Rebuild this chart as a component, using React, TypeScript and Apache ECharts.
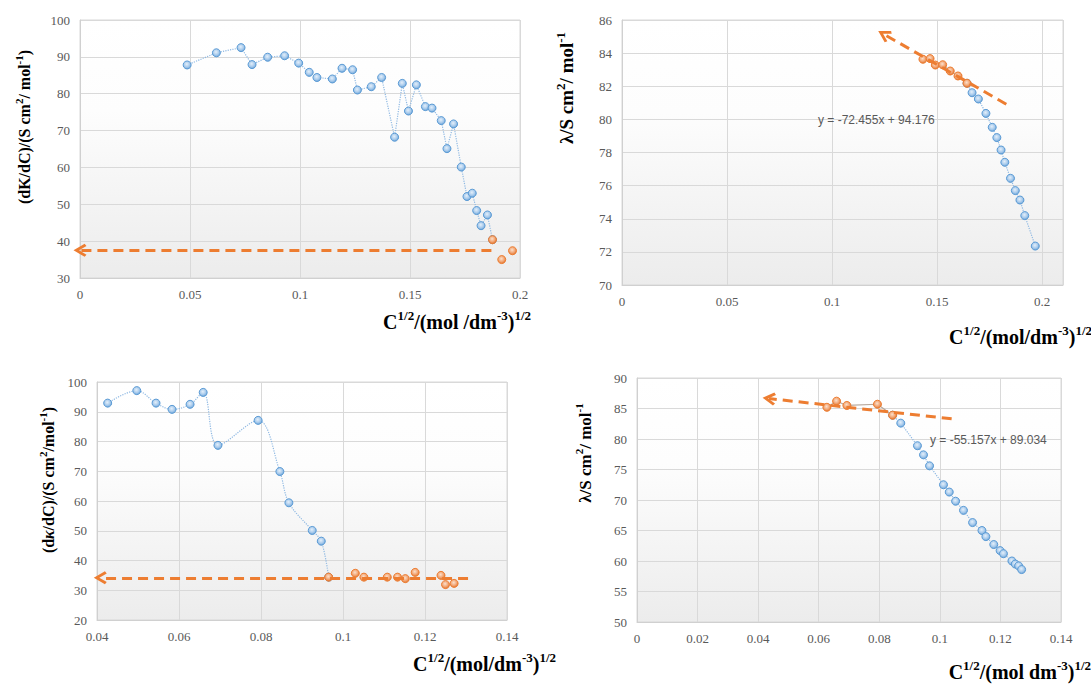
import React, { useEffect, useRef } from "react";
import * as echarts from "echarts";

// ---------- DATA ----------
// Panel 1 (top-left)
const p1BlueX = [0.0487, 0.062, 0.0732, 0.0782, 0.0853, 0.093, 0.0994, 0.1042, 0.1077, 0.1147, 0.1191, 0.1239, 0.1261, 0.1324, 0.1371, 0.143, 0.1465, 0.1493, 0.1529, 0.157, 0.16, 0.1642, 0.1668, 0.1698, 0.1733, 0.1759, 0.1783, 0.1803, 0.1823, 0.1852];
const p1BlueY = [87.8, 91.1, 92.5, 87.9, 89.9, 90.3, 88.3, 85.8, 84.4, 84.0, 86.9, 86.5, 81.0, 81.9, 84.4, 68.2, 82.8, 75.3, 82.4, 76.5, 76.1, 72.7, 65.1, 71.8, 60.1, 52.1, 53.0, 48.3, 44.2, 47.1];
const p1OrangeX = [0.1875, 0.1917, 0.1966];
const p1OrangeY = [40.4, 35.0, 37.4];
const p1ArrowX = [0.187, 0];
const p1ArrowY = [37.5, 37.5];

// Panel 2 (top-right)
const p2OrangeX = [0.1433, 0.1467, 0.1492, 0.1527, 0.1563, 0.16, 0.1643];
const p2OrangeY = [83.63, 83.67, 83.28, 83.3, 82.92, 82.62, 82.18];
const p2BlueX = [0.1667, 0.1697, 0.1733, 0.1763, 0.1785, 0.1805, 0.1823, 0.185, 0.1873, 0.1895, 0.1918, 0.1968];
const p2BlueY = [81.61, 81.23, 80.36, 79.52, 78.9, 78.15, 77.41, 76.44, 75.7, 75.13, 74.19, 72.35];
const p2Slope = -72.455;
const p2Intercept = 94.176;
const p2ArrowX = [0.183, 0.1247];
const p2Equation = "y = -72.455x + 94.176";

// Panel 3 (bottom-left)
const p3BlueX = [0.0426, 0.0497, 0.0544, 0.0583, 0.0627, 0.0659, 0.0695, 0.0793, 0.0846, 0.0868, 0.0925, 0.0947];
const p3BlueY = [92.9, 97.1, 92.9, 90.8, 92.5, 96.5, 78.7, 87.1, 69.9, 59.4, 50.1, 46.5];
const p3OrangeX = [0.0965, 0.103, 0.1051, 0.1108, 0.1133, 0.1152, 0.1176, 0.1239, 0.125, 0.1271];
const p3OrangeY = [34.4, 35.7, 34.4, 34.4, 34.4, 33.9, 36.0, 35.0, 31.9, 32.3];
const p3ArrowX = [0.1305, 0.0408];
const p3ArrowY = [34.2, 34.2];

// Panel 4 (bottom-right)
const p4OrangeX = [0.0627, 0.0659, 0.0693, 0.0794, 0.0844];
const p4OrangeY = [85.2, 86.2, 85.5, 85.7, 83.9];
const p4BlueX = [0.0871, 0.0926, 0.0946, 0.0966, 0.1012, 0.1031, 0.1052, 0.1078, 0.1108, 0.1139, 0.1152, 0.1178, 0.1199, 0.121, 0.1238, 0.1249, 0.126, 0.127];
const p4BlueY = [82.6, 78.9, 77.4, 75.6, 72.5, 71.3, 69.8, 68.3, 66.3, 65.0, 64.0, 62.7, 61.7, 61.2, 60.0, 59.5, 59.2, 58.6];
const p4Slope = -55.157;
const p4Intercept = 89.034;
const p4ArrowX = [0.1039, 0.0436];
const p4Equation = "y = -55.157x + 89.034";

// ---------- HELPERS ----------
const zip = (xs: number[], ys: number[]) => xs.map((x, i) => [x, ys[i]]);

const BLUE = "#5B9BD5";
const ORANGE = "#ED7D31";
const SERIF = "'Liberation Serif', 'Times New Roman', serif";

const blueFill = {
  type: "radial", x: 0.45, y: 0.4, r: 0.6,
  colorStops: [{ offset: 0, color: "#e4effa" }, { offset: 0.6, color: "#a9cbec" }, { offset: 1, color: "#6fa6da" }],
};
const orangeFill = {
  type: "radial", x: 0.45, y: 0.4, r: 0.6,
  colorStops: [{ offset: 0, color: "#fbe0cc" }, { offset: 0.6, color: "#f2a675" }, { offset: 1, color: "#e2752f" }],
};

const chevron = "path://M6,0 L12,9 L10,10.5 L6,4.5 L2,10.5 L0,9 Z";

const plotBg = {
  type: "linear", x: 0, y: 0, x2: 0, y2: 1,
  colorStops: [{ offset: 0, color: "#ffffff" }, { offset: 0.35, color: "#fdfdfd" }, { offset: 1, color: "#ececec" }],
};

function makeGrid(left: number, top: number, width: number, height: number) {
  return { left, top, width, height, show: true, backgroundColor: plotBg, borderColor: "#d9d9d9", borderWidth: 1 };
}

const axisLabel = { color: "#595959", fontFamily: SERIF, fontSize: 13, margin: 10 };
const splitLine = { show: true, lineStyle: { color: "#d9d9d9", width: 1 } };

function xAxis(gridIndex: number, min: number, max: number, interval: number, hideMax = false) {
  return {
    type: "value", gridIndex, min, max, interval,
    axisLine: { show: true, lineStyle: { color: "#d0d0d0" } },
    axisTick: { show: false },
    axisLabel: { ...axisLabel, showMaxLabel: !hideMax },
    splitLine,
  };
}
function yAxis(gridIndex: number, min: number, max: number, interval: number) {
  return {
    type: "value", gridIndex, min, max, interval,
    axisLine: { show: true, lineStyle: { color: "#d0d0d0" } },
    axisTick: { show: false },
    axisLabel,
    splitLine,
  };
}

function arrowMark(from: number[], to: number[]) {
  return {
    silent: true,
    animation: false,
    symbol: ["none", chevron],
    symbolSize: 13,
    label: { show: false },
    lineStyle: { type: [10, 6], width: 3, color: ORANGE, opacity: 1 },
    emphasis: { disabled: true },
    data: [[{ coord: from }, { coord: to }]],
  };
}

function blueLine(idx: number, data: number[][], smooth: number | boolean = false) {
  return {
    type: "line", xAxisIndex: idx, yAxisIndex: idx, data, smooth,
    symbol: "circle", symbolSize: 8, z: 3,
    lineStyle: { color: "#8fb9e3", width: 1.2, type: "dotted" },
    itemStyle: { color: blueFill, borderColor: BLUE, borderWidth: 1 },
  };
}
function orangePoints(idx: number, data: number[][], withLine: boolean, mark: any) {
  return {
    type: "line", xAxisIndex: idx, yAxisIndex: idx, data,
    symbol: "circle", symbolSize: 8, z: 4,
    lineStyle: withLine ? { color: "#b7a89c", width: 1.2 } : { width: 0, opacity: 0 },
    itemStyle: { color: orangeFill, borderColor: ORANGE, borderWidth: 1 },
    markLine: mark,
  };
}

const titleRich = (size: number) => ({
  b: { fontFamily: SERIF, fontWeight: "bold", fontSize: size, color: "#000", lineHeight: size + 6 },
  i: { fontFamily: SERIF, fontWeight: "bold", fontStyle: "italic", fontSize: size, color: "#000", lineHeight: size + 6 },
  s: { fontFamily: SERIF, fontWeight: "bold", fontSize: Math.round(size * 0.66), color: "#000", verticalAlign: "top" },
});

function titleText(text: string, x: number, y: number, size: number, vertical: boolean, align: string) {
  return {
    type: "text", x, y, rotation: vertical ? Math.PI / 2 : 0, silent: true,
    style: {
      text, rich: titleRich(size),
      align, textAlign: align, verticalAlign: "middle", textVerticalAlign: "middle",
    },
  };
}
function eqText(text: string, x: number, y: number) {
  return {
    type: "text", x, y, silent: true, z: 10,
    style: {
      text, fill: "#595959", font: "12px 'Liberation Sans', Arial, sans-serif",
      align: "left", textAlign: "left", verticalAlign: "middle", textVerticalAlign: "middle",
    },
  };
}

export default function App() {
  const ref = useRef<HTMLDivElement>(null);
  useEffect(() => {
    if (!ref.current) return;
    const chart = echarts.init(ref.current, undefined, { renderer: "svg" });

    const p1Blue = zip(p1BlueX, p1BlueY).concat([[p1OrangeX[0], p1OrangeY[0]]]);
    const p2Blue = [[p2OrangeX[p2OrangeX.length - 1], p2OrangeY[p2OrangeY.length - 1]]].concat(zip(p2BlueX, p2BlueY));
    const p3Blue = zip(p3BlueX, p3BlueY).concat([[p3OrangeX[0], p3OrangeY[0]]]);
    const p4Blue = [[p4OrangeX[p4OrangeX.length - 1], p4OrangeY[p4OrangeY.length - 1]]].concat(zip(p4BlueX, p4BlueY));

    const p2Arrow = p2ArrowX.map((x) => [x, p2Slope * x + p2Intercept]);
    const p4Arrow = p4ArrowX.map((x) => [x, p4Slope * x + p4Intercept]);

    chart.setOption({
      animation: false,
      backgroundColor: "#ffffff",
      grid: [
        makeGrid(80, 20, 440, 258),
        makeGrid(622, 20, 441, 265),
        makeGrid(97, 382, 410, 238),
        makeGrid(637, 378, 424, 244),
      ],
      xAxis: [
        xAxis(0, 0, 0.2, 0.05),
        xAxis(1, 0, 0.21, 0.05, true),
        xAxis(2, 0.04, 0.14, 0.02),
        xAxis(3, 0, 0.14, 0.02),
      ],
      yAxis: [
        yAxis(0, 30, 100, 10),
        yAxis(1, 70, 86, 2),
        yAxis(2, 20, 100, 10),
        yAxis(3, 50, 90, 5),
      ],
      series: [
        blueLine(0, p1Blue),
        orangePoints(0, zip(p1OrangeX, p1OrangeY), false, arrowMark([p1ArrowX[0], p1ArrowY[0]], [p1ArrowX[1], p1ArrowY[1]])),
        blueLine(1, p2Blue),
        orangePoints(1, zip(p2OrangeX, p2OrangeY), true, arrowMark(p2Arrow[0], p2Arrow[1])),
        blueLine(2, p3Blue, 0.35),
        orangePoints(2, zip(p3OrangeX, p3OrangeY), false, arrowMark([p3ArrowX[0], p3ArrowY[0]], [p3ArrowX[1], p3ArrowY[1]])),
        blueLine(3, p4Blue),
        orangePoints(3, zip(p4OrangeX, p4OrangeY), true, arrowMark(p4Arrow[0], p4Arrow[1])),
      ],
      graphic: [
        titleText("{b|(dK/dC)/(S cm}{s|2}{b|/ mol}{s|-1}{b|)}", 24, 127, 16, true, "center"),
        titleText("{b|C}{s|1/2}{b|/(mol /dm}{s|-3}{b|)}{s|1/2}", 531, 322, 20, false, "right"),
        titleText("{b|λ/S cm}{s|2}{b|/ mol}{s|-1}", 566, 88, 19, true, "center"),
        titleText("{b|C}{s|1/2}{b|/(mol/dm}{s|-3}{b|)}{s|1/2}", 1092, 337, 20, false, "right"),
        titleText("{b|(d}{i|κ}{b|/dC)/(S cm}{s|2}{b|/mol}{s|-1}{b|)}", 48, 480, 16, true, "center"),
        titleText("{b|C}{s|1/2}{b|/(mol/dm}{s|-3}{b|)}{s|1/2}", 556, 664, 20, false, "right"),
        titleText("{b|λ/S cm}{s|2}{b|/ mol}{s|-1}", 585, 453, 17, true, "center"),
        titleText("{b|C}{s|1/2}{b|/(mol dm}{s|-3}{b|)}{s|1/2}", 1091, 672, 20, false, "right"),
        eqText(p2Equation, 818, 120),
        eqText(p4Equation, 930, 440),
      ],
    });
    return () => chart.dispose();
  }, []);
  return (
    <div
      ref={ref}
      style={{ position: "absolute", left: 0, top: 0, width: 1091, height: 684, background: "#fff" }}
    />
  );
}
